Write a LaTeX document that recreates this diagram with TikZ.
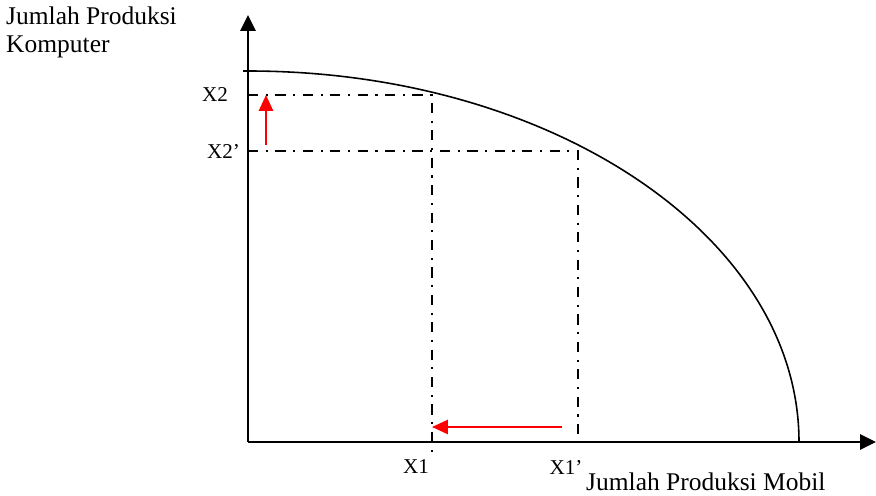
\documentclass[tikz,border=0pt]{standalone}
\usepackage{fontspec}
\setmainfont{Liberation Serif}
\usetikzlibrary{arrows.meta, positioning, calc}
\definecolor{inkblack}{HTML}{000000}
\definecolor{shiftred}{HTML}{FF0000}

\begin{document}
\begin{tikzpicture}[>={Triangle[length=9pt, width=8.5pt]}, line width=1.4pt,
  guide/.style={inkblack, line width=1.1pt, dash pattern=on 5.8pt off 4.3pt on 1.2pt off 4.3pt},
  shiftarrow/.style={shiftred, line width=1.2pt, ->, >={Triangle[length=9pt, width=8pt]}},
  ticklabel/.style={font=\fontsize{12}{14}\selectfont, text=inkblack, inner sep=1pt},
  axislabel/.style={font=\fontsize{14.5}{15.5}\selectfont, text=inkblack, align=left, inner sep=0pt}]

% Canvas (876 x 495 px, 1px = 0.02cm, origin at the axes corner)
\useasboundingbox (-4.96,-1.06) rectangle (12.56,8.84);

% Axes
\coordinate (O) at (0,0);
\coordinate (xend) at (12.56,0);
\coordinate (yend) at (0,8.54);
\draw[->] (O) -- (xend);
\draw[->] (O) -- (yend);

% Production possibility frontier (quarter ellipse, a=11.02, b=7.42)
\coordinate (ppftop) at (0,7.42);
\draw[line width=0.9pt] ($(ppftop)+(-0.1,0)$) -- (ppftop)
  arc[start angle=90, end angle=0, x radius=11.02, y radius=7.42];

% Guide points
\coordinate (x2) at (0,6.94);
\coordinate (x2p) at (0,5.82);
\coordinate (x1) at (3.68,-0.22);
\coordinate (x1p) at (6.60,0.12);
\coordinate (A) at (3.68,6.94);
\coordinate (B) at (6.60,5.82);

% Dash-dot guides
\draw[guide] (x2) -- (A) -- (x1);
\draw[guide] (x2p) -- (B) -- (x1p);

% Shifts
\coordinate (upstart) at (0.36,5.94);
\coordinate (upend) at (0.36,6.94);
\coordinate (leftstart) at (6.28,0.30);
\coordinate (leftend) at (3.68,0.30);
\draw[shiftarrow] (upstart) -- (upend);
\draw[shiftarrow] (leftstart) -- (leftend);

% Labels
\node[ticklabel, anchor=east] (lx2) at (-0.34,6.94) {X2};
\node[ticklabel, anchor=east] (lx2p) at (-0.10,5.82) {X2’};
\node[ticklabel] (lx1) at (3.36,-0.50) {X1};
\node[ticklabel] (lx1p) at (6.36,-0.50) {X1’};
\node[axislabel, anchor=west] (xlab) at (6.74,-0.80) {Jumlah Produksi Mobil};
\node[axislabel, anchor=north west] (ylab) at (-4.86,8.72) {Jumlah Produksi\\Komputer};

\end{tikzpicture}
\end{document}
